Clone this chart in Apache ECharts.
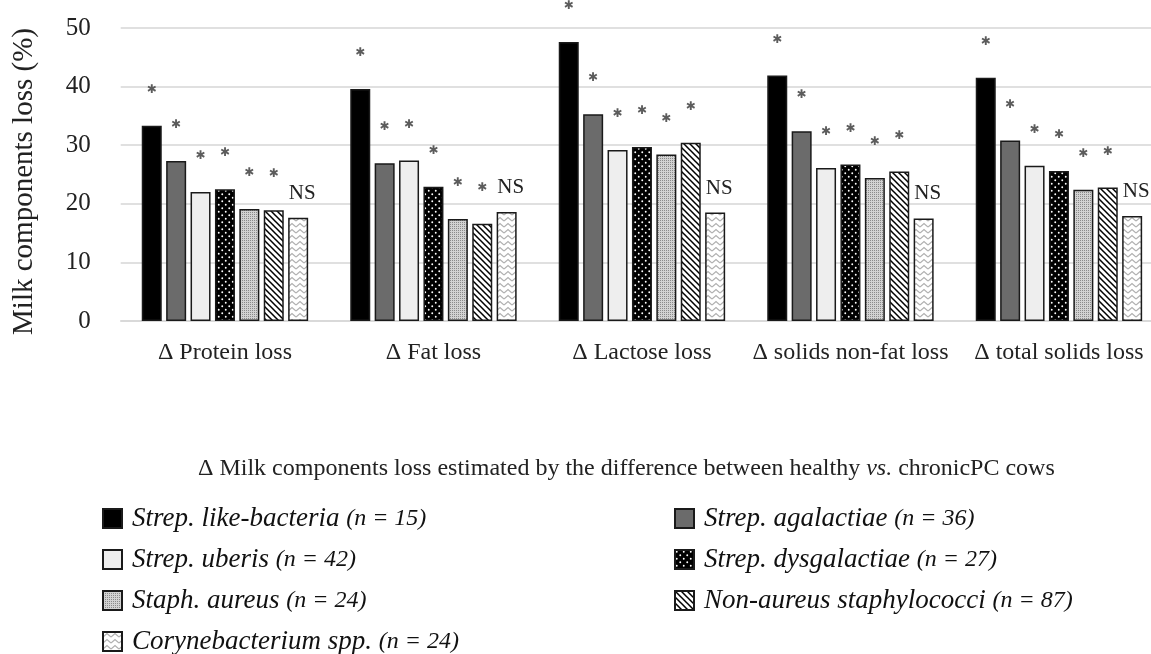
<!DOCTYPE html>
<html>
<head>
<meta charset="utf-8">
<script src="https://cdn.jsdelivr.net/npm/echarts@6/dist/echarts.min.js"></script>
<style>html,body{margin:0;padding:0;background:#fff;}#c{width:1151px;height:654px;}</style>
</head>
<body>
<div id="c"></div>
<script>
// ---- data ----
const categories = ['Δ Protein loss', 'Δ Fat loss', 'Δ Lactose loss', 'Δ solids non-fat loss', 'Δ total solids loss'];
const seriesNames = [
  'Strep. like-bacteria (n = 15)',
  'Strep. agalactiae (n = 36)',
  'Strep. uberis (n = 42)',
  'Strep. dysgalactiae (n = 27)',
  'Staph. aureus (n = 24)',
  'Non-aureus staphylococci (n = 87)',
  'Corynebacterium spp. (n = 24)'
];
const strepLike        = [33.3, 39.6, 47.6, 41.9, 41.5];
const strepAgalactiae  = [27.3, 26.9, 35.3, 32.4, 30.8];
const strepUberis      = [22.0, 27.4, 29.2, 26.1, 26.5];
const strepDysgalactiae= [22.5, 22.9, 29.7, 26.7, 25.6];
const staphAureus      = [19.1, 17.4, 28.4, 24.4, 22.4];
const nonAureusStaph   = [18.9, 16.6, 30.4, 25.5, 22.8];
const corynebacterium  = [17.6, 18.6, 18.5, 17.5, 17.9];
const significance     = ['*', '*', '*', '*', '*', '*', 'NS'];
const yTicks = [0, 10, 20, 30, 40, 50];

const seriesValues = [strepLike, strepAgalactiae, strepUberis, strepDysgalactiae, staphAureus, nonAureusStaph, corynebacterium];

// ---- patterns ----
function tile(w, h, draw) {
  const c = document.createElement('canvas');
  c.width = w; c.height = h;
  const g = c.getContext('2d');
  draw(g, w, h);
  return { image: c, repeat: 'repeat' };
}
const dotsPattern = tile(7, 7, (g, w, h) => {
  g.fillStyle = '#000'; g.fillRect(0, 0, w, h);
  g.fillStyle = '#fff';
  [[1.75, 1.75], [5.25, 5.25]].forEach(p => { g.beginPath(); g.arc(p[0], p[1], 0.95, 0, Math.PI * 2); g.fill(); });
});
const finePattern = tile(4, 4, (g, w, h) => {
  g.fillStyle = '#d2d2d2'; g.fillRect(0, 0, w, h);
  g.fillStyle = '#8a8a8a';
  g.fillRect(0, 0, 1, 1); g.fillRect(2, 2, 1, 1); g.fillRect(2, 0, 1, 1); g.fillRect(0, 2, 1, 1);
});
const stripePattern = tile(6, 6, (g, w, h) => {
  g.fillStyle = '#fff'; g.fillRect(0, 0, w, h);
  g.strokeStyle = '#000'; g.lineWidth = 1.5;
  g.beginPath();
  g.moveTo(-1, -1); g.lineTo(w + 1, h + 1);
  g.moveTo(-1, h - 1); g.lineTo(1, h + 1);
  g.moveTo(w - 1, -1); g.lineTo(w + 1, 1);
  g.stroke();
});
const zigzagPattern = tile(8, 6, (g, w, h) => {
  g.fillStyle = '#fff'; g.fillRect(0, 0, w, h);
  g.strokeStyle = '#b0b0b0'; g.lineWidth = 1.2;
  g.beginPath();
  g.moveTo(0, 5); g.lineTo(4, 1.5); g.lineTo(8, 5);
  g.stroke();
});

const fills = ['#000000', '#6b6b6b', '#eeeeee', dotsPattern, finePattern, stripePattern, zigzagPattern];

const chart = echarts.init(document.getElementById('c'), null, { renderer: 'canvas' });

const series = seriesNames.map((name, i) => ({
  name: name,
  type: 'bar',
  data: seriesValues[i],
  barWidth: 20,
  barGap: '22%',
  itemStyle: { color: fills[i], borderColor: '#1a1a1a', borderWidth: 1.5 },
  label: significance[i] === 'NS' ? {
    show: true, position: 'top', distance: 14, offset: [4, 0],
    formatter: 'NS', color: '#222', fontFamily: 'Liberation Serif', fontSize: 21
  } : {
    show: true, position: 'top', distance: 30,
    formatter: '✱', color: '#5c5c5c', fontFamily: 'DejaVu Sans', fontSize: 12
  },
  emphasis: { disabled: true }
}));

const legendFormatter = function (name) {
  const m = name.match(/^(.*?)\s*(\(.*\))$/);
  return '{a|' + m[1] + ' }{n|' + m[2] + '}';
};
const legendRich = {
  a: { fontFamily: 'Liberation Serif', fontStyle: 'italic', fontSize: 27, color: '#111', padding: [0, 0, 0, 5] },
  n: { fontFamily: 'Liberation Serif', fontStyle: 'italic', fontSize: 24, color: '#111' }
};
function legendBlock(left, top, names) {
  return {
    orient: 'vertical', left: left, top: top, padding: 0,
    itemWidth: 19, itemHeight: 19, itemGap: 14,
    icon: 'rect', data: names,
    formatter: legendFormatter, textStyle: { rich: legendRich }, selectedMode: false
  };
}

chart.setOption({
  animation: false,
  backgroundColor: '#fff',
  title: {
    left: 193, top: 452,
    text: '{a|Δ Milk components loss estimated by the difference between healthy }{i|vs.}{a| chronicPC cows}',
    textStyle: {
      fontWeight: 'normal',
      rich: {
        a: { fontFamily: 'Liberation Serif', fontSize: 24, fontWeight: 'normal', color: '#222' },
        i: { fontFamily: 'Liberation Serif', fontStyle: 'italic', fontWeight: 'normal', fontSize: 24, color: '#222' }
      }
    }
  },
  legend: [
    legendBlock(102, 505, [seriesNames[0], seriesNames[2], seriesNames[4]]),
    legendBlock(102, 628, [seriesNames[6]]),
    legendBlock(674, 505, [seriesNames[1], seriesNames[3], seriesNames[5]])
  ],
  grid: { left: 120.7, width: 1042.5, top: 28, height: 293, outerBoundsMode: 'none', containLabel: false },
  xAxis: {
    type: 'category', data: categories,
    axisLine: { show: true, lineStyle: { color: '#d6d6d6', width: 1.5 } },
    axisTick: { show: false },
    axisLabel: { interval: 0, margin: 20, fontFamily: 'Liberation Serif', fontSize: 24, color: '#222' }
  },
  yAxis: {
    type: 'value', min: yTicks[0], max: yTicks[yTicks.length - 1], interval: 10,
    name: 'Milk components loss (%)', nameLocation: 'middle', nameGap: 82,
    nameTextStyle: { fontFamily: 'Liberation Serif', fontSize: 29, color: '#222', padding: [0, 14, 0, 0] },
    axisLine: { show: false }, axisTick: { show: false },
    axisLabel: { margin: 30, fontFamily: 'Liberation Serif', fontSize: 25, color: '#222' },
    splitLine: { lineStyle: { color: '#d6d6d6', width: 1.5 } }
  },
  series: series
});
</script>
</body>
</html>
